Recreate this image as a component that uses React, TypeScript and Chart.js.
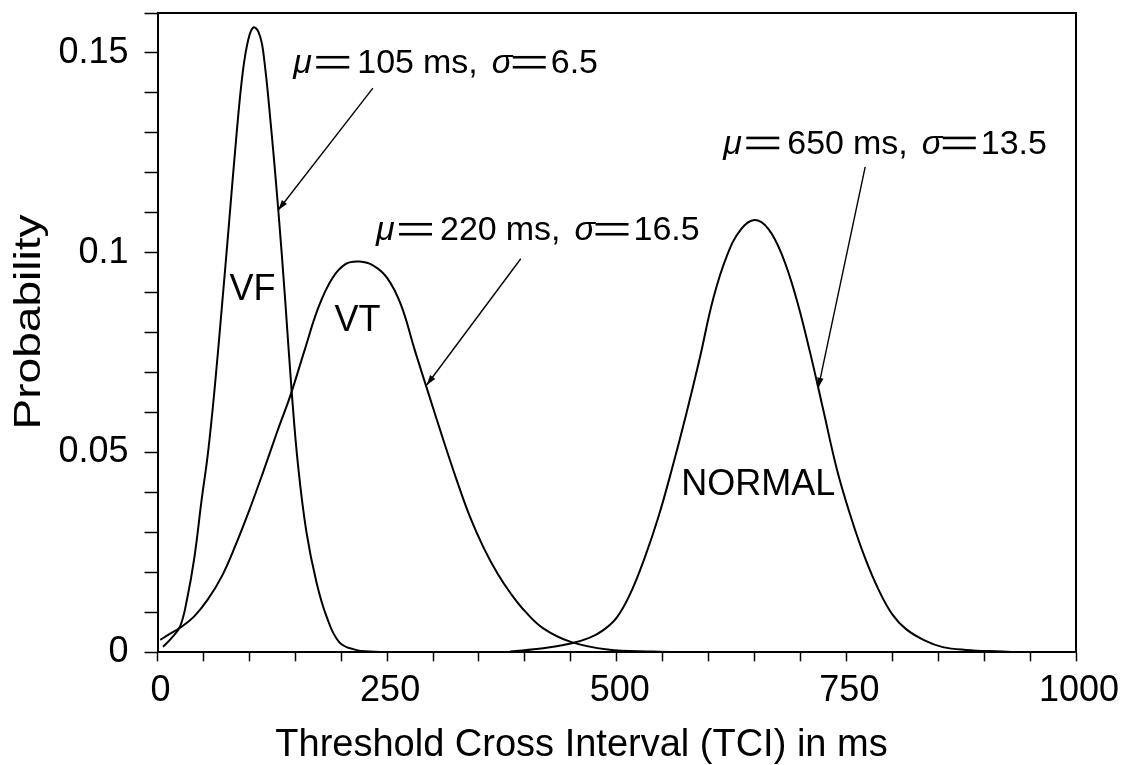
import React, { useEffect, useRef } from 'react';
import { Chart, registerables } from 'chart.js';

Chart.register(...registerables);

// ---------- data ----------
const vfX = [6, 15, 24.5, 32, 40, 48, 55, 62, 70, 77, 86, 93, 99, 104.5, 110, 115, 124, 131.5, 139, 146, 153, 162, 173, 184, 198, 216, 231, 250];
const vfY = [0.0014, 0.0035, 0.0064, 0.0131, 0.0235, 0.0381, 0.05, 0.0655, 0.0862, 0.105, 0.1295, 0.1455, 0.1535, 0.1564, 0.1552, 0.1505, 0.1305, 0.1107, 0.0882, 0.0655, 0.0468, 0.0303, 0.0176, 0.009, 0.0025, 0.0006, 0.0002, 0];

const vtX = [3, 12, 25, 40, 55, 70, 85, 100, 115, 130, 145, 160, 175, 190, 205, 220, 235, 250, 265, 280, 295, 310, 325, 340, 355, 370, 385, 400, 420, 450, 490, 540, 580];
const vtY = [0.0031, 0.0044, 0.0062, 0.009, 0.0133, 0.019, 0.0268, 0.0356, 0.0451, 0.055, 0.0645, 0.0755, 0.0862, 0.0935, 0.0972, 0.0978, 0.0968, 0.0937, 0.087, 0.0757, 0.0648, 0.054, 0.0436, 0.034, 0.0262, 0.0198, 0.0146, 0.0103, 0.006, 0.0026, 0.0007, 0.0002, 0];

const nX = [384, 420, 450, 470, 485, 500, 515, 530, 545, 560, 575, 590, 605, 620, 635, 650, 665, 680, 695, 710, 725, 740, 755, 770, 785, 800, 815, 835, 855, 880, 920, 940];
const nY = [0.0002, 0.001, 0.0022, 0.0036, 0.0055, 0.0087, 0.0148, 0.0234, 0.0336, 0.0458, 0.059, 0.0732, 0.0885, 0.0993, 0.1058, 0.1082, 0.106, 0.0994, 0.089, 0.0755, 0.0605, 0.0455, 0.0338, 0.0238, 0.0157, 0.0095, 0.0058, 0.003, 0.0013, 0.0006, 0.0002, 0];

const xLabelValues = [0, 250, 500, 750, 1000];
const yLabelValues = [0, 0.05, 0.1, 0.15];
const yLabelTexts = ['0', '0.05', '0.1', '0.15'];

const xTitle = 'Threshold Cross Interval (TCI) in ms';
const yTitle = 'Probability';

const curveNames = ['VF', 'VT', 'NORMAL'];
const curveNameX = [103.4, 217.7, 654.1];
const curveNameY = [0.0882, 0.0803, 0.0394];

const annMu = ['105', '220', '650'];
const annSigma = ['6.5', '16.5', '13.5'];
const annX = [147.8, 237.9, 616];
const annY = [0.145, 0.1032, 0.1248];
const arrowFromX = [234.5, 395.5, 770.5];
const arrowFromY = [0.1412, 0.0985, 0.1215];
const arrowToX = [131.5, 293.1, 719.4];
const arrowToY = [0.1107, 0.0669, 0.0662];

// ---------- layout ----------
const W = 1133;
const H = 765;
const FONT = "'Liberation Sans', Arial, Helvetica, sans-serif";
const PLOT_LEFT = 157.5;
const PLOT_BOTTOM = 652.3;

function toPts(xs: number[], ys: number[]) {
  return xs.map((x, i) => ({ x, y: ys[i] }));
}

function drawEq(ctx: CanvasRenderingContext2D, x: number, base: number, w: number) {
  ctx.fillRect(x, base - 17, w, 2.6);
  ctx.fillRect(x, base - 7, w, 2.6);
}

const overlayPlugin = {
  id: 'overlay',
  afterDraw(chart: any) {
    const { ctx, chartArea, scales } = chart;
    const xs = scales.x;
    const ys = scales.y;
    ctx.save();
    ctx.strokeStyle = '#000';
    ctx.fillStyle = '#000';
    // frame (top & right)
    ctx.lineWidth = 2;
    ctx.beginPath();
    ctx.moveTo(chartArea.left, chartArea.top);
    ctx.lineTo(chartArea.right, chartArea.top);
    ctx.lineTo(chartArea.right, chartArea.bottom);
    ctx.stroke();

    // curve names
    ctx.font = `36px ${FONT}`;
    ctx.textAlign = 'center';
    ctx.textBaseline = 'alphabetic';
    curveNames.forEach((t, i) => {
      ctx.fillText(t, xs.getPixelForValue(curveNameX[i]), ys.getPixelForValue(curveNameY[i]));
    });

    // annotations
    ctx.textAlign = 'left';
    annMu.forEach((mu, i) => {
      const x0 = xs.getPixelForValue(annX[i]);
      const b = ys.getPixelForValue(annY[i]);
      ctx.font = `italic 34px ${FONT}`;
      ctx.fillText('\u03BC', x0, b);
      drawEq(ctx, x0 + 23, b, 33);
      ctx.font = `34px ${FONT}`;
      const nx = x0 + 64;
      ctx.fillText(mu, nx, b);
      const msx = nx + ctx.measureText(mu).width + 9;
      ctx.fillText('ms,', msx, b);
      const sx = msx + ctx.measureText('ms,').width + 14;
      ctx.font = `italic 34px ${FONT}`;
      ctx.fillText('\u03C3', sx, b);
      drawEq(ctx, sx + 21, b, 33);
      ctx.font = `34px ${FONT}`;
      ctx.fillText(annSigma[i], sx + 59, b);

      // arrow
      const ax0 = xs.getPixelForValue(arrowFromX[i]);
      const ay0 = ys.getPixelForValue(arrowFromY[i]);
      const ax1 = xs.getPixelForValue(arrowToX[i]);
      const ay1 = ys.getPixelForValue(arrowToY[i]);
      ctx.lineWidth = 1.4;
      ctx.beginPath();
      ctx.moveTo(ax0, ay0);
      ctx.lineTo(ax1, ay1);
      ctx.stroke();
      const ang = Math.atan2(ay1 - ay0, ax1 - ax0);
      const L = 10;
      const hw = 3.2;
      ctx.beginPath();
      ctx.moveTo(ax1, ay1);
      ctx.lineTo(ax1 - L * Math.cos(ang) + hw * Math.sin(ang), ay1 - L * Math.sin(ang) - hw * Math.cos(ang));
      ctx.lineTo(ax1 - L * Math.cos(ang) - hw * Math.sin(ang), ay1 - L * Math.sin(ang) + hw * Math.cos(ang));
      ctx.closePath();
      ctx.fill();
    });

    // x axis title
    ctx.font = `38px ${FONT}`;
    ctx.textAlign = 'center';
    ctx.textBaseline = 'alphabetic';
    ctx.fillText(xTitle, 581.5, 756);

    // y axis title (rotated, slightly elongated like the reference)
    ctx.save();
    ctx.translate(30, 322);
    ctx.rotate(-Math.PI / 2);
    ctx.scale(1.28, 1);
    ctx.font = `36px ${FONT}`;
    ctx.textAlign = 'center';
    ctx.textBaseline = 'middle';
    ctx.fillText(yTitle, 0, 0);
    ctx.restore();

    ctx.restore();
  },
};

export default function App() {
  const ref = useRef<HTMLCanvasElement | null>(null);
  useEffect(() => {
    if (!ref.current) return;
    const lineStyle = {
      borderColor: '#000',
      borderWidth: 2,
      pointRadius: 0,
      fill: false,
      tension: 0.4,
    };
    const chart = new Chart(ref.current, {
      type: 'line',
      data: {
        datasets: [
          { label: 'VF', data: toPts(vfX, vfY), ...lineStyle },
          { label: 'VT', data: toPts(vtX, vtY), ...lineStyle },
          { label: 'NORMAL', data: toPts(nX, nY), ...lineStyle },
        ],
      },
      options: {
        animation: false,
        responsive: false,
        devicePixelRatio: 1,
        layout: { padding: { top: 13, right: W - 1076, bottom: 0, left: 0 } },
        plugins: { legend: { display: false }, tooltip: { enabled: false } },
        scales: {
          x: {
            type: 'linear',
            min: 0,
            max: 1000,
            afterFit: (s: any) => {
              s.height = H - PLOT_BOTTOM;
              s.paddingLeft = 0;
              s.paddingRight = 0;
            },
            border: { display: true, color: '#000', width: 2 },
            grid: { drawOnChartArea: false, drawTicks: true, tickLength: 9, tickColor: '#000', tickWidth: 1.5 },
            ticks: {
              stepSize: 50,
              autoSkip: false,
              maxRotation: 0,
              padding: 8,
              labelOffset: 3,
              color: '#000',
              font: { family: FONT, size: 36 },
              callback: (v: any) => (xLabelValues.includes(Number(v)) ? String(v) : ''),
            },
            title: { display: false },
          },
          y: {
            type: 'linear',
            min: 0,
            max: 0.16,
            afterFit: (s: any) => {
              s.width = PLOT_LEFT;
              s.paddingTop = 0;
              s.paddingBottom = 0;
            },
            border: { display: true, color: '#000', width: 2 },
            grid: { drawOnChartArea: false, drawTicks: true, tickLength: 13, tickColor: '#000', tickWidth: 1.5 },
            ticks: {
              stepSize: 0.01,
              autoSkip: false,
              padding: 16,
              color: '#000',
              font: { family: FONT, size: 36 },
              callback: (v: any) => {
                const idx = yLabelValues.findIndex((y) => Math.abs(y - Number(v)) < 1e-9);
                return idx >= 0 ? yLabelTexts[idx] : '';
              },
            },
            title: { display: false },
          },
        },
      },
      plugins: [overlayPlugin],
    });
    return () => chart.destroy();
  }, []);

  return (
    <div style={{ position: 'fixed', left: 0, top: 0, width: W, height: H, background: '#fff' }}>
      <canvas ref={ref} width={W} height={H} style={{ display: 'block', width: W, height: H }} />
    </div>
  );
}
